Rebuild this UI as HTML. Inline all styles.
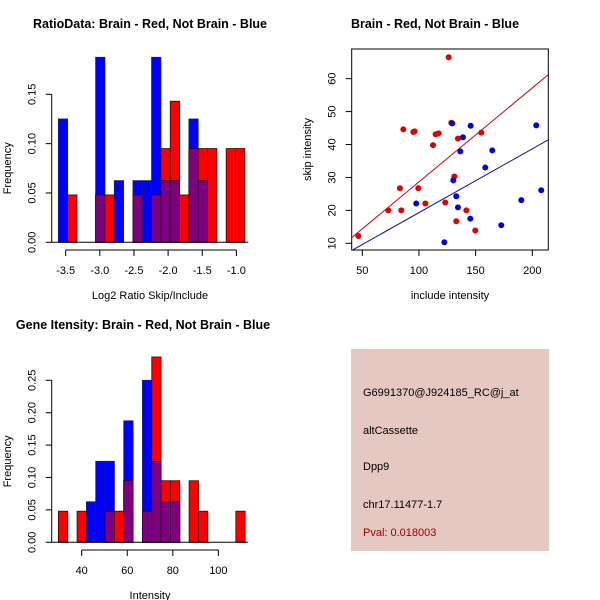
<!DOCTYPE html>
<html><head><meta charset="utf-8"><style>
body{margin:0;background:#fff}
svg{display:block;font-family:"Liberation Sans",sans-serif}
</style></head><body>
<svg id="c" width="600" height="600" xmlns="http://www.w3.org/2000/svg">
<rect width="600" height="600" fill="#fff"/>
<text x="150" y="28" font-size="12.5" font-weight="bold" text-anchor="middle">RatioData: Brain - Red, Not Brain - Blue</text>
<text x="435" y="28" font-size="12.5" font-weight="bold" text-anchor="middle">Brain - Red, Not Brain - Blue</text>
<text x="143" y="329" font-size="12.5" font-weight="bold" text-anchor="middle">Gene Itensity: Brain - Red, Not Brain - Blue</text>
<g id="g1"></g>
<g id="g2"></g>
<g id="g3"></g>
<g>
<rect x="351" y="349" width="198" height="202" fill="#e5c8c2"/>
<text x="363" y="396" font-size="11">G6991370@J924185_RC@j_at</text>
<text x="363" y="434" font-size="11">altCassette</text>
<text x="363" y="470" font-size="11">Dpp9</text>
<text x="363" y="508" font-size="11">chr17.11477-1.7</text>
<text x="363" y="536" font-size="11" fill="#a00000">Pval: 0.018003</text>
</g>
</svg>
<script>
// ---- Ratio histogram data ----
const ratioBinStart = -3.608;
const ratioBinWidth = 0.1366;
const ratioBlue = [0.125,0,0,0,0.1875,0,0.0625,0,0.0625,0.0625,0.1875,0.0625,0.0625,0,0.125,0.0625,0,0,0,0];
const ratioRed  = [0,0.048,0,0,0.048,0.048,0,0,0.048,0,0.048,0.095,0.143,0.048,0.095,0.095,0.095,0,0.095,0.095];
const ratioXTicks = [-3.5,-3.0,-2.5,-2.0,-1.5,-1.0];
const ratioXTickLabels = ["-3.5","-3.0","-2.5","-2.0","-1.5","-1.0"];
const ratioYTicks = [0,0.05,0.10,0.15];
const ratioYTickLabels = ["0.00","0.05","0.10","0.15"];
// ---- Intensity histogram data ----
const intBinStart = 29.76;
const intBinWidth = 4.1;
const intBlue = [0,0,0,0.0625,0.125,0.125,0,0.1875,0,0.25,0.125,0.0625,0.0625,0,0,0,0,0,0,0];
const intRed  = [0.048,0,0.048,0,0,0.048,0.048,0.095,0,0.048,0.286,0.095,0.095,0,0.095,0.048,0,0,0,0.048];
const intXTicks = [40,60,80,100];
const intXTickLabels = ["40","60","80","100"];
const intYTicks = [0,0.05,0.10,0.15,0.20,0.25];
const intYTickLabels = ["0.00","0.05","0.10","0.15","0.20","0.25"];
// ---- Scatter data ----
const redX = [126.2,46.5,72.9,84.4,83.2,99.4,105.6,86.2,95,96.2,112.4,114.7,117.4,128.5,134.4,131.2,123.2,132.9,141.8,149.7,155];
const redY = [66.5,12.2,20.0,20.0,26.7,26.7,22.1,44.6,43.8,44.0,39.8,43.1,43.4,46.6,41.8,30.3,22.4,16.7,20.0,13.9,43.6];
const blueX = [129.4,145.6,138.8,136.5,164.7,158.5,130.3,132.9,134.4,97.6,145.3,122.4,172.6,190.3,203.5,207.9];
const blueY = [46.4,45.7,42.2,37.9,38.2,33.0,29.1,24.3,20.9,22.1,17.5,10.3,15.5,23.1,45.8,26.1];
const redFit = [0.117,0.2853];
const blueFit = [-0.06,0.1937];
const scXTicks = [50,100,150,200];
const scYTicks = [10,20,30,40,50,60];

const NS="http://www.w3.org/2000/svg";
function mk(parent,tag,attrs){const e=document.createElementNS(NS,tag);for(const k in attrs)e.setAttribute(k,attrs[k]);parent.appendChild(e);return e;}

function drawHist(g,binStart,binW,blue,red,xTicks,xLabels,yTicks,yLabels,sx,sy,yAxisX,xAxisY,xTitle,xTitleY){
  for(let i=0;i<blue.length;i++){
    const x0=sx(binStart+i*binW), x1=sx(binStart+(i+1)*binW);
    const b=blue[i], r=red[i], m=Math.min(b,r);
    if(b>0){const e=mk(g,'rect',{x:x0,y:sy(b),width:x1-x0,height:sy(0)-sy(b),fill:'#0000ff',stroke:'#202060','stroke-width':0.8});
      
      }
    if(r>0){const e=mk(g,'rect',{x:x0,y:sy(r),width:x1-x0,height:sy(0)-sy(r),fill:'#ff0000',stroke:'#400000','stroke-width':0.8});
      
      }
    if(m>0){const e=mk(g,'rect',{x:x0,y:sy(m),width:x1-x0,height:sy(0)-sy(m),fill:'#7f007f',stroke:'#300030','stroke-width':0.8});
      
      }
  }
  const x0=sx(binStart), x1=sx(binStart+blue.length*binW);
  mk(g,'line',{x1:51.7,x2:248.3,y1:sy(0),y2:sy(0),stroke:'#000','stroke-width':1});
  mk(g,'line',{x1:sx(xTicks[0]),x2:sx(xTicks[xTicks.length-1]),y1:xAxisY,y2:xAxisY,stroke:'#000'});
  xTicks.forEach((t,i)=>{mk(g,'line',{x1:sx(t),x2:sx(t),y1:xAxisY,y2:xAxisY+6,stroke:'#000'});
    const e=mk(g,'text',{x:sx(t),y:xAxisY+24,'font-size':11,'text-anchor':'middle'});e.textContent=xLabels[i];
    
    });
  mk(g,'line',{x1:yAxisX,x2:yAxisX,y1:sy(yTicks[0]),y2:sy(yTicks[yTicks.length-1]),stroke:'#000'});
  yTicks.forEach((t,i)=>{mk(g,'line',{x1:yAxisX-6,x2:yAxisX,y1:sy(t),y2:sy(t),stroke:'#000'});
    const e=mk(g,'text',{x:0,y:0,'font-size':11,'text-anchor':'middle',transform:`translate(${yAxisX-16},${sy(t)}) rotate(-90)`});e.textContent=yLabels[i];
    
    });
  let e=mk(g,'text',{x:150,y:xTitleY,'font-size':11,'text-anchor':'middle'});e.textContent=xTitle;
  
  
  e=mk(g,'text',{x:0,y:0,'font-size':11,'text-anchor':'middle',transform:`translate(11,${(sy(0)+sy(yTicks[yTicks.length-1]))/2}) rotate(-90)`});e.textContent='Frequency';
  
  
}

drawHist(document.getElementById('g1'),ratioBinStart,ratioBinWidth,ratioBlue,ratioRed,ratioXTicks,ratioXTickLabels,ratioYTicks,ratioYTickLabels,
  v=>65.7+(v+3.5)*68.27, v=>242.3-v*986.7, 51.7, 250, 'Log2 Ratio Skip/Include', 299);
drawHist(document.getElementById('g3'),intBinStart,intBinWidth,intBlue,intRed,intXTicks,intXTickLabels,intYTicks,intYTickLabels,
  v=>81.7+(v-40)*2.278, v=>542.3-v*648, 51.7, 550, 'Intensity', 599);

(function(){
  const g=document.getElementById('g2');
  const sx=v=>362.3+(v-50)*1.1333, sy=v=>243.3-(v-10)*3.293;
  const L=351.7,R=548.3,T=49,B=250;
  mk(g,'rect',{x:L,y:T,width:R-L,height:B-T,fill:'none',stroke:'#000'});
  const xmin=(L-362.3)/1.1333+50, xmax=(R-362.3)/1.1333+50;
  const clip=mk(g,'clipPath',{id:'scclip'});mk(clip,'rect',{x:L,y:T,width:R-L,height:B-T});
  let e=mk(g,'line',{x1:sx(xmin),y1:sy(redFit[0]+redFit[1]*xmin),x2:sx(xmax),y2:sy(redFit[0]+redFit[1]*xmax),stroke:'#d00020','stroke-width':1,'clip-path':'url(#scclip)'});
  
  
  e=mk(g,'line',{x1:sx(xmin),y1:sy(blueFit[0]+blueFit[1]*xmin),x2:sx(xmax),y2:sy(blueFit[0]+blueFit[1]*xmax),stroke:'#1010a0','stroke-width':1,'clip-path':'url(#scclip)'});
  
  
  redX.forEach((x,i)=>{const c=mk(g,'circle',{cx:sx(x),cy:sy(redY[i]),r:3,fill:'#e00000'});
    
    });
  blueX.forEach((x,i)=>{const c=mk(g,'circle',{cx:sx(x),cy:sy(blueY[i]),r:3,fill:'#0000e0'});
    
    });
  scXTicks.forEach(t=>{mk(g,'line',{x1:sx(t),x2:sx(t),y1:B,y2:B+6,stroke:'#000'});
    const e=mk(g,'text',{x:sx(t),y:B+24,'font-size':11,'text-anchor':'middle'});e.textContent=t;
    
    });
  scYTicks.forEach(t=>{mk(g,'line',{x1:L-6,x2:L,y1:sy(t),y2:sy(t),stroke:'#000'});
    const e=mk(g,'text',{x:0,y:0,'font-size':11,'text-anchor':'middle',transform:`translate(${L-16},${sy(t)}) rotate(-90)`});e.textContent=t;
    
    });
  e=mk(g,'text',{x:450,y:299,'font-size':11,'text-anchor':'middle'});e.textContent='include intensity';
  
  
  e=mk(g,'text',{x:0,y:0,'font-size':11,'text-anchor':'middle',transform:`translate(311,${(T+B)/2}) rotate(-90)`});e.textContent='skip intensity';
  
  
})();
</script>
</body></html>
